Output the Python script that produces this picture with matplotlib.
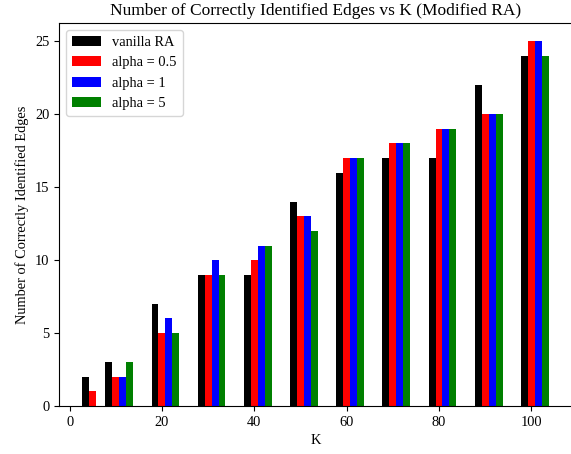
import matplotlib
matplotlib.use("Agg")
import matplotlib.pyplot as plt
import numpy as np

plt.rcParams['font.family'] = ['Liberation Serif', 'DejaVu Serif']
plt.rcParams['font.size'] = 10.4

k_values = [5, 10, 20, 30, 40, 50, 60, 70, 80, 90, 100]
vanilla = [2, 3, 7, 9, 9, 14, 16, 17, 17, 22, 24]
alpha_05 = [1, 2, 5, 9, 10, 13, 17, 18, 19, 20, 25]
alpha_1 = [0, 2, 6, 10, 11, 13, 17, 18, 19, 20, 25]
alpha_5 = [0, 3, 5, 9, 11, 12, 17, 18, 19, 20, 24]

k = np.array(k_values)
w = 1.5

fig = plt.figure(figsize=(5.71, 4.54), dpi=100)
ax = fig.add_axes([0.1033, 0.1057, 0.8985, 0.8436])

ax.bar(k - w, vanilla, width=w, color='black', label='vanilla RA')
ax.bar(k, alpha_05, width=w, color='red', label='alpha = 0.5')
ax.bar(k + w, alpha_1, width=w, color='blue', label='alpha = 1')
ax.bar(k + 2 * w, alpha_5, width=w, color='green', label='alpha = 5')

ax.set_title('Number of Correctly Identified Edges vs K (Modified RA)', fontsize=12.5)
ax.set_xlabel('K')
ax.set_ylabel('Number of Correctly Identified Edges')
ax.legend(loc='upper left')
# the reference image is cropped at the right spine
ax.spines['right'].set_visible(False)

plt.savefig('out.png')
